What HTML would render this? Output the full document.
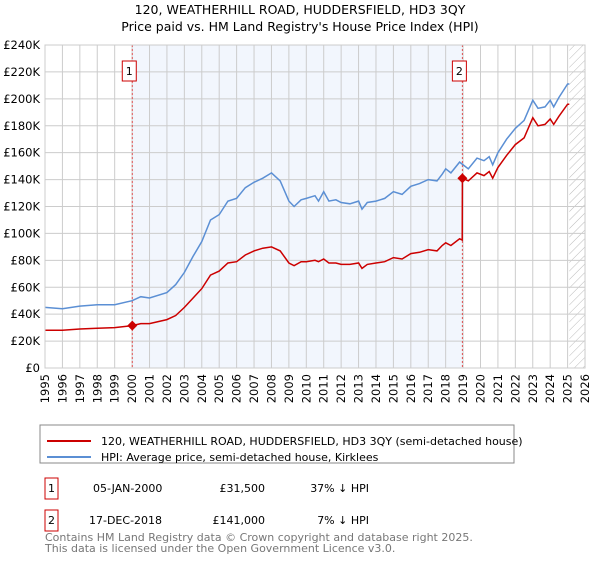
<!DOCTYPE html>
<html><head><meta charset="utf-8"><style>
body{margin:0;background:#fff;font-family:"DejaVu Sans","Liberation Sans",sans-serif;}
svg text{font-family:"DejaVu Sans","Liberation Sans",sans-serif;}
</style></head><body>
<svg id="c" width="600" height="560" xmlns="http://www.w3.org/2000/svg">
<text x="300" y="14" text-anchor="middle" font-size="12.5">120, WEATHERHILL ROAD, HUDDERSFIELD, HD3 3QY</text>
<text x="300" y="31" text-anchor="middle" font-size="12.5">Price paid vs. HM Land Registry's House Price Index (HPI)</text>
<defs><pattern id="hatch" width="6" height="6" patternUnits="userSpaceOnUse" patternTransform="rotate(45)"><line x1="0" y1="0" x2="0" y2="6" stroke="#bbb" stroke-width="1"/></pattern></defs>
<g id="plot"></g>
<rect x="40" y="425" width="474" height="38" fill="none" stroke="#888"/>
<line x1="47" y1="441" x2="91" y2="441" stroke="#cc0000" stroke-width="2"/>
<text x="101" y="445" font-size="11">120, WEATHERHILL ROAD, HUDDERSFIELD, HD3 3QY (semi-detached house)</text>
<line x1="47" y1="457" x2="91" y2="457" stroke="#5b8fd4" stroke-width="2"/>
<text x="101" y="461" font-size="11">HPI: Average price, semi-detached house, Kirklees</text>
<g font-size="11">
<rect x="45" y="478" width="13" height="21" fill="none" stroke="#cc0000"/><text x="51.5" y="492" text-anchor="middle">1</text>
<text x="93" y="492">05-JAN-2000</text><text x="265" y="492" text-anchor="end">£31,500</text><text x="369" y="492" text-anchor="end">37% ↓ HPI</text>
<rect x="45" y="510" width="13" height="21" fill="none" stroke="#cc0000"/><text x="51.5" y="524" text-anchor="middle">2</text>
<text x="89" y="524">17-DEC-2018</text><text x="265" y="524" text-anchor="end">£141,000</text><text x="369" y="524" text-anchor="end">7% ↓ HPI</text>
</g>
<text x="45" y="541" font-size="11" fill="#777">Contains HM Land Registry data © Crown copyright and database right 2025.</text>
<text x="45" y="552" font-size="11" fill="#777">This data is licensed under the Open Government Licence v3.0.</text>
</svg>
<script>
const yTicks=[0,20,40,60,80,100,120,140,160,180,200,220,240];
const years=[1995,1996,1997,1998,1999,2000,2001,2002,2003,2004,2005,2006,2007,2008,2009,2010,2011,2012,2013,2014,2015,2016,2017,2018,2019,2020,2021,2022,2023,2024,2025,2026];
const hpiT=[1995,1996,1997,1998,1999,2000,2000.5,2001,2002,2002.5,2003,2003.5,2004,2004.5,2005,2005.5,2006,2006.5,2007,2007.5,2008,2008.5,2009,2009.3,2009.7,2010,2010.5,2010.7,2011,2011.3,2011.7,2012,2012.5,2013,2013.2,2013.5,2014,2014.5,2015,2015.5,2016,2016.5,2017,2017.5,2017.8,2018,2018.3,2018.8,2019.3,2019.8,2020.2,2020.5,2020.7,2021,2021.5,2022,2022.5,2023,2023.3,2023.7,2024,2024.2,2024.5,2025,2025.1];
const hpiV=[45,44,46,47,47,50,53,52,56,62,71,83,94,110,114,124,126,134,138,141,145,139,124,120,125,126,128,124,131,124,125,123,122,124,118,123,124,126,131,129,135,137,140,139,144,148,145,153,148,156,154,157,151,160,170,178,184,199,193,194,199,194,201,211,211];
const priceT=[1995,1996,1997,1998,1999,2000,2000.5,2001,2002,2002.5,2003,2003.5,2004,2004.5,2005,2005.5,2006,2006.5,2007,2007.5,2008,2008.5,2009,2009.3,2009.7,2010,2010.5,2010.7,2011,2011.3,2011.7,2012,2012.5,2013,2013.2,2013.5,2014,2014.5,2015,2015.5,2016,2016.5,2017,2017.5,2017.8,2018,2018.3,2018.8,2018.95,2018.96,2019.3,2019.8,2020.2,2020.5,2020.7,2021,2021.5,2022,2022.5,2023,2023.3,2023.7,2024,2024.2,2024.5,2025,2025.1];
const priceV=[28,28,29,29.5,30,31.5,33,33,36,39,45,52,59,69,72,78,79,84,87,89,90,87,78,76,79,79,80,79,81,78,78,77,77,78,74,77,78,79,82,81,85,86,88,87,91,93,91,96,95,141,139,145,143,146,141,149,158,166,171,186,180,181,185,181,187,196,196];
const saleT=[2000.01,2018.96];
const saleV=[31.5,141];
const saleLabels=["1","2"];
const X=t=>45+(t-1995)*17.42, Y=v=>368-v*1.3458;
const NS="http://www.w3.org/2000/svg",g=document.getElementById('plot');
function mk(tag,at){const e=document.createElementNS(NS,tag);for(const k in at)e.setAttribute(k,at[k]);g.appendChild(e);return e;}
let e=mk('rect',{x:X(saleT[0]),y:Y(240),width:X(saleT[1])-X(saleT[0]),height:Y(0)-Y(240),fill:'#f2f6fd'});


e=mk('rect',{x:X(2025.1),y:Y(240),width:X(2026)-X(2025.1),height:Y(0)-Y(240),fill:'url(#hatch)'});


yTicks.forEach(v=>{mk('line',{x1:45,x2:X(2026),y1:Y(v),y2:Y(v),stroke:'#ccc'});
 const t=mk('text',{x:40,y:Y(v)+4,'text-anchor':'end','font-size':'11.5'});t.textContent='£'+v+(v?'K':'');
 
 });
years.forEach(yr=>{mk('line',{x1:X(yr),x2:X(yr),y1:Y(240),y2:Y(0),stroke:'#ccc'});
 const t=mk('text',{x:0,y:0,'text-anchor':'end','font-size':'11.5',transform:`translate(${X(yr)+4},${Y(0)+6}) rotate(-90)`});t.textContent=yr;
 
 });
saleT.forEach((t,i)=>{mk('line',{x1:X(t),x2:X(t),y1:Y(240),y2:Y(0),stroke:'#e05050','stroke-dasharray':'2,2'});});
const pts=(T,V)=>T.map((t,i)=>X(t).toFixed(1)+','+Y(V[i]).toFixed(1)).join(' ');
e=mk('polyline',{points:pts(hpiT,hpiV),fill:'none',stroke:'#5b8fd4','stroke-width':1.5});


e=mk('polyline',{points:pts(priceT,priceV),fill:'none',stroke:'#cc0000','stroke-width':1.5});


saleT.forEach((t,i)=>{const x=X(t),y=Y(saleV[i]);
 const m=mk('polygon',{points:`${x},${y-5} ${x+5},${y} ${x},${y+5} ${x-5},${y}`,fill:'#cc0000'});
 
 
 const b=mk('rect',{x:x-10,y:61,width:14,height:20,fill:'#fff',stroke:'#cc0000'});
 
 
 const l=mk('text',{x:x-3,y:75,'text-anchor':'middle','font-size':'11'});l.textContent=saleLabels[i];
 
 });
e=mk('rect',{x:45,y:Y(240),width:X(2026)-45,height:Y(0)-Y(240),fill:'none',stroke:'#ccc'});


</script>
</body></html>
